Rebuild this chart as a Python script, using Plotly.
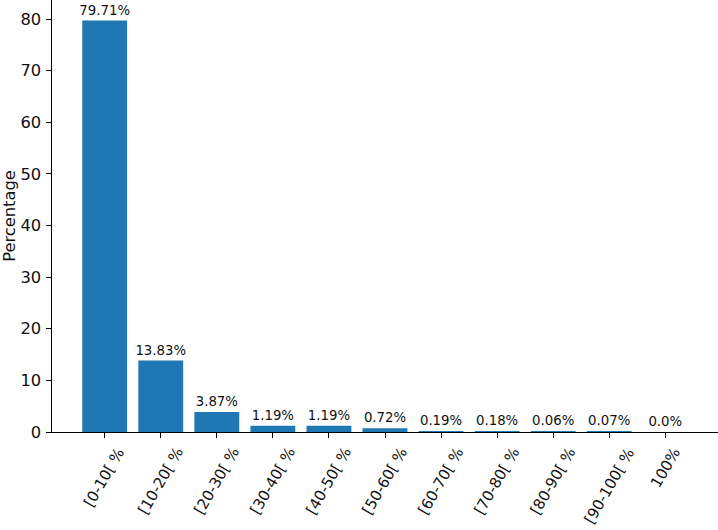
import plotly.graph_objects as go

categories = ["[0-10[ %", "[10-20[ %", "[20-30[ %", "[30-40[ %", "[40-50[ %",
              "[50-60[ %", "[60-70[ %", "[70-80[ %", "[80-90[ %", "[90-100[ %", "100%"]
percentages = [79.71, 13.83, 3.87, 1.19, 1.19, 0.72, 0.19, 0.18, 0.06, 0.07, 0.0]
y_ticks = [0, 10, 20, 30, 40, 50, 60, 70, 80]

idx = list(range(len(categories)))
labels = [f"{float(v)}%" for v in percentages]

FONT = "DejaVu Sans"
TICK_SIZE = 16.3
XLAB_SIZE = 15

fig = go.Figure()
fig.add_trace(go.Bar(
    x=idx, y=percentages, width=0.8,
    marker=dict(color="#1f77b4", line=dict(width=0)),
    text=labels, textposition="outside", cliponaxis=False, constraintext="none",
    textfont=dict(family=FONT, size=13.3, color="#111111"),
    hoverinfo="skip",
))

for i, c in zip(idx, categories):
    fig.add_annotation(
        x=i, xref="x", y=0, yref="paper", yshift=-10,
        text=c, showarrow=False, textangle=-60,
        xanchor="center", yanchor="top",
        font=dict(family=FONT, size=XLAB_SIZE, color="#111111"),
    )

fig.update_layout(
    width=718, height=530,
    margin=dict(l=52, r=0, t=0, b=98),
    paper_bgcolor="white", plot_bgcolor="white",
    showlegend=False,
    font=dict(family=FONT, color="#111111"),
)
fig.update_xaxes(
    range=[-0.94, 10.94], tickvals=idx, ticktext=[""] * len(idx),
    showgrid=False, zeroline=False, showline=True, linecolor="black", linewidth=1.1,
    ticks="outside", ticklen=4.5, tickwidth=1.1, tickcolor="black",
)
fig.update_yaxes(
    range=[0, 83.7], tickvals=y_ticks,
    showgrid=False, zeroline=False, showline=True, linecolor="black", linewidth=1.1,
    ticks="outside", ticklen=4.5, tickwidth=1.1, tickcolor="black",
    tickfont=dict(family=FONT, size=TICK_SIZE, color="#111111"),
    ticklabelstandoff=2,
    title=dict(text="Percentage", font=dict(family=FONT, size=TICK_SIZE, color="#111111"), standoff=4),
)

fig.write_html("out.html", config={"displayModeBar": False},
               post_script="document.body.style.margin='0';")
